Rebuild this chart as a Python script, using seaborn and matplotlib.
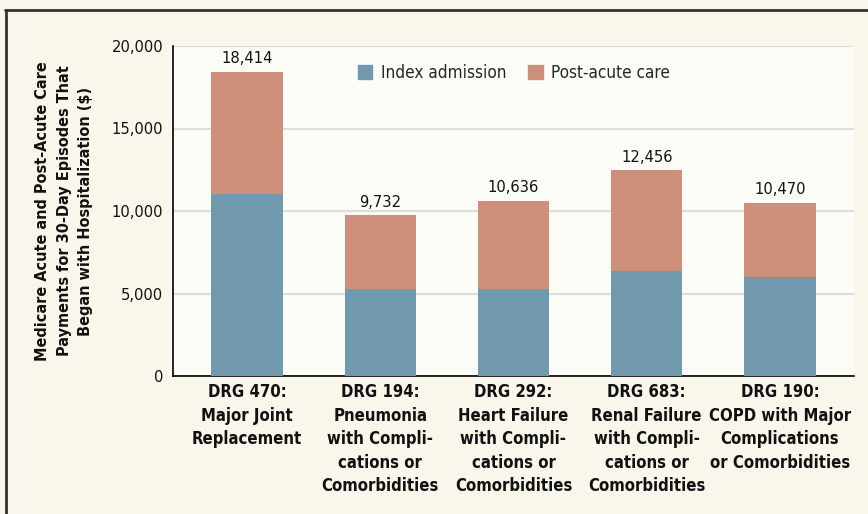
import matplotlib.pyplot as plt
import matplotlib.patches as mpatches
from matplotlib.lines import Line2D
import pandas as pd
import seaborn as sns

categories = [
    "DRG 470:\nMajor Joint\nReplacement",
    "DRG 194:\nPneumonia\nwith Compli-\ncations or\nComorbidities",
    "DRG 292:\nHeart Failure\nwith Compli-\ncations or\nComorbidities",
    "DRG 683:\nRenal Failure\nwith Compli-\ncations or\nComorbidities",
    "DRG 190:\nCOPD with Major\nComplications\nor Comorbidities",
]
totals = [18414, 9732, 10636, 12456, 10470]
index_admission = [11030, 5270, 5270, 6360, 6000]

blue = "#7099ae"
salmon = "#cf907b"

sns.set_style("white")
plt.rcParams['font.family'] = ['DejaVu Sans']
plt.rcParams['font.stretch'] = 'condensed'

df = pd.DataFrame({"drg": categories, "total": totals, "index": index_admission})

fig = plt.figure(figsize=(8.68, 5.14), dpi=100, facecolor="#f9f7ec")
ax = fig.add_axes([173 / 868, 1 - 376 / 514, (854 - 173) / 868, 330 / 514])
ax.set_facecolor("#fdfdf8")

sns.barplot(data=df, x="drg", y="total", color=salmon, saturation=1, width=0.535, linewidth=0, ax=ax, zorder=3)
sns.barplot(data=df, x="drg", y="index", color=blue, saturation=1, width=0.535, linewidth=0, ax=ax, zorder=3)

for i, t in enumerate(totals):
    ax.text(i, t + 350, f"{t:,}", ha="center", va="bottom", fontsize=11.8, color="#111111")

ax.set_ylim(0, 20000)
ax.set_xlim(-0.556, 4.556)
ax.set_yticks([0, 5000, 10000, 15000, 20000])
ax.set_yticklabels([f"{v:,}" for v in [0, 5000, 10000, 15000, 20000]], fontsize=11.8, color="#111111")
ax.yaxis.grid(True, color="#dddddd", linewidth=1.5, zorder=0)
ax.set_axisbelow(True)
ax.tick_params(axis="y", direction="out", length=5, width=1, color="black", pad=2)
ax.tick_params(axis="x", length=0, pad=5)
for lab in ax.get_xticklabels():
    lab.set_fontweight("bold")
    lab.set_fontsize(12)
    lab.set_color("#111111")
    lab.set_linespacing(1.4)

sns.despine(ax=ax, top=True, right=True)
ax.spines["left"].set_color("black")
ax.spines["bottom"].set_color("black")
ax.spines["left"].set_linewidth(1.2)
ax.spines["bottom"].set_linewidth(1.2)

ax.set_xlabel("")
ax.set_ylabel("Medicare Acute and Post-Acute Care\nPayments for 30-Day Episodes That\nBegan with Hospitalization ($)",
              fontsize=11.6, fontweight="bold", linespacing=1.55, color="#111111")
ax.yaxis.set_label_coords(-0.117, 0.5)

handles = [mpatches.Patch(color=blue, label="Index admission"),
           mpatches.Patch(color=salmon, label="Post-acute care")]
ax.legend(handles=handles, loc="center", bbox_to_anchor=((514 - 173) / 681, 0.918), ncol=2, frameon=False,
          fontsize=12.3, handlelength=0.85, handleheight=0.85, columnspacing=1.3, handletextpad=0.5)

# outer frame
fig.add_artist(Line2D([5 / 868, 1], [1 - 10 / 514, 1 - 10 / 514], transform=fig.transFigure, color="#333333", linewidth=2))
fig.add_artist(Line2D([6 / 868, 6 / 868], [0, 1 - 10 / 514], transform=fig.transFigure, color="#333333", linewidth=2))

plt.savefig("out.png", dpi=100, facecolor=fig.get_facecolor())
